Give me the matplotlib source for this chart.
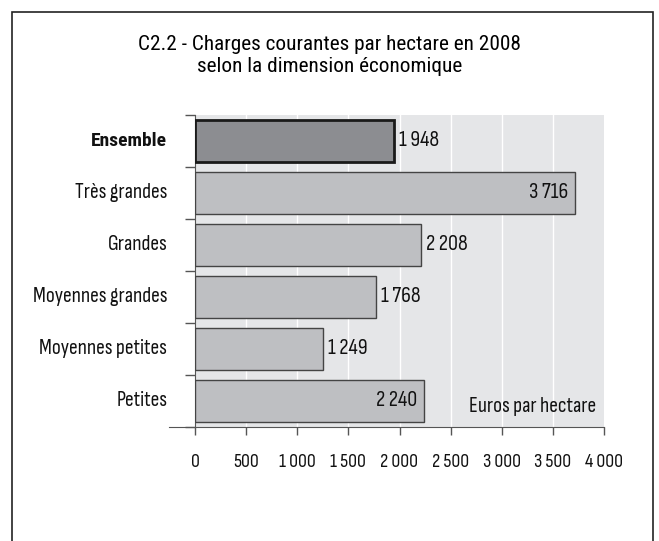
import matplotlib.pyplot as plt
from matplotlib.patches import Rectangle

categories = ["Ensemble", "Très grandes", "Grandes", "Moyennes grandes",
              "Moyennes petites", "Petites"]
values = [1948, 3716, 2208, 1768, 1249, 2240]
inside_label = [False, True, False, False, False, True]
xticks = [0, 500, 1000, 1500, 2000, 2500, 3000, 3500, 4000]

plt.rcParams['font.family'] = ['Sofia Sans Condensed', 'DejaVu Sans']
title_font = ['Roboto Condensed', 'DejaVu Sans']


def fmt(v):
    return f"{v:,}".replace(",", " ")


fig = plt.figure(figsize=(6.59, 5.41), dpi=100)
ax = fig.add_axes([195/659, 1 - 427/541, 409/659, 312/541])

ax.set_facecolor('#e5e6e8')
for x in xticks[1:-1]:
    ax.axvline(x, color='white', lw=1.0, zorder=1)

pos = list(range(len(categories)))
for i, v in enumerate(values):
    if i == 0:
        ax.barh(i, v, height=0.82, color='#8c8d91', edgecolor='#1a1a1a',
                linewidth=2.0, zorder=3)
    else:
        ax.barh(i, v, height=0.82, color='#bebfc2', edgecolor='#444444',
                linewidth=1.0, zorder=3)
    if inside_label[i]:
        ax.text(v - 70, i, fmt(v), ha='right', va='center', fontsize=16,
                color='#111111', zorder=4)
    else:
        ax.text(v + 50, i, fmt(v), ha='left', va='center', fontsize=16,
                color='#111111', zorder=4)

ax.set_xlim(0, 4000)
ax.set_ylim(len(categories) - 0.5, -0.5)

# category labels at bar centres, ticks at the boundaries
ax.set_yticks([p - 0.5 for p in pos] + [len(categories) - 0.5])
ax.set_yticklabels([])
ax.tick_params(axis='y', length=7, width=1, color='#555555', direction='out')
for i, c in enumerate(categories):
    if i == 0:
        ax.text(-0.068, i, c, transform=ax.get_yaxis_transform(), ha='right',
                va='center', fontsize=14, color='#111111', fontweight='bold',
                family=title_font)
    else:
        ax.text(-0.068, i, c, transform=ax.get_yaxis_transform(), ha='right',
                va='center', fontsize=15.5, color='#111111')

ax.set_xticks(xticks)
ax.set_xticklabels([fmt(t) for t in xticks], fontsize=14.3, color='#111111')
ax.tick_params(axis='x', length=6, width=1, color='#555555', pad=13)

for s in ['top', 'right']:
    ax.spines[s].set_visible(False)
ax.spines['left'].set_color('#555555')
ax.spines['bottom'].set_color('#555555')
ax.spines['bottom'].set_bounds(-250, 4000)

ax.text(0.98, 0.065, "Euros par hectare", transform=ax.transAxes,
        ha='right', va='center', fontsize=15.5, color='#111111')

fig.text(0.5, 1 - 44/541, "C2.2 - Charges courantes par hectare en 2008",
         ha='center', va='center', fontsize=15.3, family=title_font)
fig.text(0.5, 1 - 66/541, "selon la dimension économique",
         ha='center', va='center', fontsize=15.3, family=title_font)

fig.patches.append(Rectangle((12/659, -0.1), (653 - 12)/659, 1.1 - 12/541,
                             transform=fig.transFigure, fill=False,
                             edgecolor='#222222', lw=1.2))

fig.savefig("out.png", dpi=100)
